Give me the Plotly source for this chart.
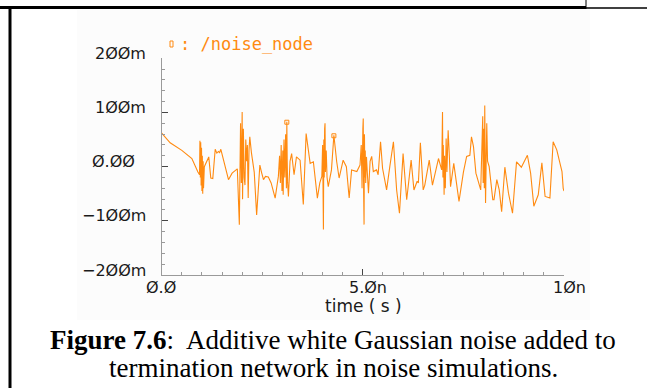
import plotly.graph_objects as go

# ---- data (time in ns, voltage in mV) ----
time_ns = [0.00, 0.21, 0.50, 0.75, 0.90, 0.94,
           0.95, 0.96, 0.97, 0.98, 0.99, 1.00, 1.01, 1.02, 1.03, 1.04, 1.06,
           1.12, 1.17, 1.22, 1.27, 1.33, 1.37, 1.41, 1.44, 1.47, 1.56, 1.66, 1.75, 1.85, 1.88,
           1.93, 1.95, 1.96, 1.98, 2.00, 2.01, 2.03, 2.05, 2.07, 2.09, 2.11, 2.13, 2.15, 2.17, 2.19,
           2.23, 2.30, 2.36, 2.44, 2.48, 2.53, 2.58, 2.65, 2.72, 2.82, 2.90,
           2.93, 2.95, 2.97, 2.99, 3.01, 3.02, 3.04, 3.06, 3.08, 3.10, 3.11, 3.12, 3.13, 3.15,
           3.19, 3.23, 3.29, 3.35, 3.44, 3.52, 3.59, 3.64, 3.69, 3.77, 3.87, 3.93, 3.98,
           4.00, 4.01, 4.02, 4.03, 4.04, 4.05, 4.06, 4.07, 4.09, 4.11,
           4.14, 4.22, 4.28, 4.35, 4.41, 4.51, 4.59, 4.66, 4.72, 4.85, 4.93,
           4.96, 4.98, 5.00, 5.01, 5.02, 5.03, 5.04, 5.05, 5.06, 5.07, 5.09, 5.11,
           5.14, 5.18, 5.22, 5.26, 5.34, 5.38, 5.44, 5.49, 5.59, 5.67, 5.76, 5.84, 5.91,
           6.00, 6.09, 6.20, 6.27, 6.35, 6.38, 6.43, 6.50, 6.54, 6.65, 6.73, 6.88, 6.96,
           6.98, 6.99, 7.00, 7.02, 7.03, 7.05, 7.07, 7.09, 7.12, 7.15,
           7.18, 7.26, 7.39, 7.50, 7.58, 7.66, 7.70, 7.75, 7.81, 7.93,
           7.96, 7.98, 7.99, 8.00, 8.02, 8.03, 8.05, 8.06, 8.08, 8.10,
           8.14, 8.23, 8.26, 8.33, 8.39, 8.45, 8.53, 8.62, 8.72, 8.82, 8.88, 8.94,
           9.09, 9.17, 9.25, 9.36, 9.45, 9.53, 9.65, 9.73, 9.82, 9.95, 9.98, 10.00]
noise_mv = [62, 44, 30, 15, -10, -15,
            48, -20, 45, -35, 35, -45, 20, -50, 10, -40, 0,
            12, 18, -21, -22, 32, 25, 28, 26, 32, 5, -24, -12, -5, -4,
            -107, 60, 80, -30, 101, -60, 70, -20, -34, 50, 10, 40, -58, 30, 55,
            26, -10, -89, 3, -10, -24, -18, -19, -30, -58, -18,
            20, -30, 40, -45, 30, -52, 50, -20, 60, -40, 83, 10, -30, -55,
            10, 24, -15, 18, 12, -70, 61, 30, 6, 9, -58, -30, -18,
            40, -60, -116, 50, -20, 70, 80, -10, 30, -20,
            -37, -6, 58, 9, -21, 12, 0, -58, -6, -9, 3,
            40, -40, 70, 89, -50, -107, 60, -20, 30, -30, 18, -10,
            -49, 10, 19, -9, -6, -15, 46, -3, -43, 0, 46, -43, -86,
            24, -61, 12, -43, -27, -30, 44, -43, -34, 12, -34, 15, -6,
            101, -20, 40, -52, 20, -40, 52, -10, 67, 20,
            -37, 6, -64, -10, 19, 21, 55, 37, -12, -43,
            40, 93, -30, 70, -40, 113, -67, 40, 80, 10,
            0, -61, -61, -24, -43, -83, -1, -49, -86, 9, 3, -1,
            21, -12, -73, -52, 7, -55, -58, 46, 31, -9, -40, -45]
# waveform marker symbols drawn on the trace
marker_t_ns = [3.11, 4.28]
marker_mv = [82, 57]

y_ticks = [-200, -100, 0, 100, 200]
y_tick_labels = ["\u22122\u00d8\u00d8m", "\u22121\u00d8\u00d8m", "\u00d8.\u00d8\u00d8", "1\u00d8\u00d8m", "2\u00d8\u00d8m"]
x_ticks = [0, 5, 10]
x_tick_labels = ["\u00d8.\u00d8", "5.\u00d8n", "1\u00d8n"]
series_name = ": /noise_node"
x_title = "time\u00a0( s\u00a0)"
caption_1 = "<b>Figure 7.6</b>:  Additive white Gaussian noise added to"
caption_2 = "termination network in noise simulations."

W, H = 647, 388
def px(x):
    return x / W
def py(y):
    return 1 - y / H

ORANGE = "#ff8a10"
TXT = "#1a1a1a"

fig = go.Figure()
fig.add_trace(go.Scatter(x=time_ns, y=noise_mv, mode="lines",
                         line=dict(color=ORANGE, width=1.1), showlegend=False,
                         hoverinfo="skip"))
fig.add_trace(go.Scatter(x=marker_t_ns, y=marker_mv, mode="markers",
                         marker=dict(symbol="square-open", size=4, color=ORANGE,
                                     line=dict(width=1, color=ORANGE)),
                         showlegend=False, hoverinfo="skip"))

x0p, x1p = 161.7, 564.0
ytop, ybot = 58.3, 275.0

fig.update_layout(
    template="none",
    width=W, height=H,
    margin=dict(l=0, r=0, t=0, b=0, autoexpand=False),
    paper_bgcolor="white", plot_bgcolor="rgba(0,0,0,0)",
    font=dict(family="DejaVu Sans", size=16, color=TXT),
    xaxis=dict(domain=[px(x0p), px(x1p)], range=[0, 10], showgrid=False, zeroline=False,
               automargin=False, showticklabels=False,
               showline=True, linecolor="#9a9a9a", linewidth=1,
               tickvals=x_ticks, ticks="inside", ticklen=6,
               tickcolor="#444", tickwidth=1,
               minor=dict(dtick=0.5, tick0=0, ticks="inside", ticklen=3, tickcolor="#999")),
    yaxis=dict(domain=[py(ybot), py(ytop)], range=[-200, 200], showgrid=False, zeroline=False,
               automargin=False, showticklabels=False,
               showline=True, linecolor="#9a9a9a", linewidth=1,
               tickvals=y_ticks, ticks="inside", ticklen=6,
               tickcolor="#444", tickwidth=1,
               minor=dict(dtick=20, tick0=0, ticks="inside", ticklen=3, tickcolor="#999")),
)

shapes = [
    dict(type="rect", xref="paper", yref="paper", x0=px(77), x1=px(590), y0=py(320), y1=py(10),
         fillcolor="#fcfcfc", line=dict(width=0), layer="below"),
    dict(type="line", xref="paper", yref="paper", x0=px(0), x1=px(586), y0=py(7.5), y1=py(7.5),
         line=dict(color="black", width=3)),
    dict(type="line", xref="paper", yref="paper", x0=px(586), x1=px(586), y0=py(0), y1=py(9),
         line=dict(color="black", width=1)),
    dict(type="line", xref="paper", yref="paper", x0=px(586), x1=px(647), y0=py(8), y1=py(8),
         line=dict(color="black", width=1.5)),
    dict(type="line", xref="paper", yref="paper", x0=px(10), x1=px(10), y0=py(7), y1=py(388),
         line=dict(color="black", width=3)),
    dict(type="rect", xref="paper", yref="paper", x0=px(170), x1=px(173), y0=py(47), y1=py(41),
         line=dict(color=ORANGE, width=1), fillcolor="rgba(0,0,0,0)"),
]
fig.update_layout(shapes=shapes)

# y tick labels (numeric part right-aligned, unit suffix hanging past it)
for v, lab in zip(y_ticks, y_tick_labels):
    right = 137 if lab.endswith("\u00d8") else 148
    fig.add_annotation(xref="paper", yref="y", x=px(right), y=v, yshift=5, text=lab,
                       showarrow=False, xanchor="right", yanchor="middle",
                       font=dict(family="DejaVu Sans", size=16, color=TXT))
# x tick labels (numeric part centred on the tick)
for v, lab in zip(x_ticks, x_tick_labels):
    shift = 5 if lab.endswith("n") else -1
    fig.add_annotation(xref="x", yref="paper", x=v, y=py(287), xshift=shift, text=lab,
                       showarrow=False, xanchor="center", yanchor="middle",
                       font=dict(family="DejaVu Sans", size=16, color=TXT))
fig.add_annotation(xref="paper", yref="paper", x=px(364), y=py(306), text=x_title,
                   showarrow=False, xanchor="center", yanchor="middle",
                   font=dict(family="DejaVu Sans", size=17, color=TXT))

fig.add_annotation(xref="paper", yref="paper", x=px(178), y=py(44), text=series_name,
                   showarrow=False, xanchor="left", yanchor="middle",
                   font=dict(family="DejaVu Sans Mono", size=17, color=ORANGE))
fig.add_annotation(xref="paper", yref="paper", x=px(333), y=py(340), text=caption_1,
                   showarrow=False, xanchor="center", yanchor="middle",
                   font=dict(family="Liberation Serif", size=27, color="black"))
fig.add_annotation(xref="paper", yref="paper", x=px(333), y=py(368), text=caption_2,
                   showarrow=False, xanchor="center", yanchor="middle",
                   font=dict(family="Liberation Serif", size=27, color="black"))

fig.write_html("out.html")
